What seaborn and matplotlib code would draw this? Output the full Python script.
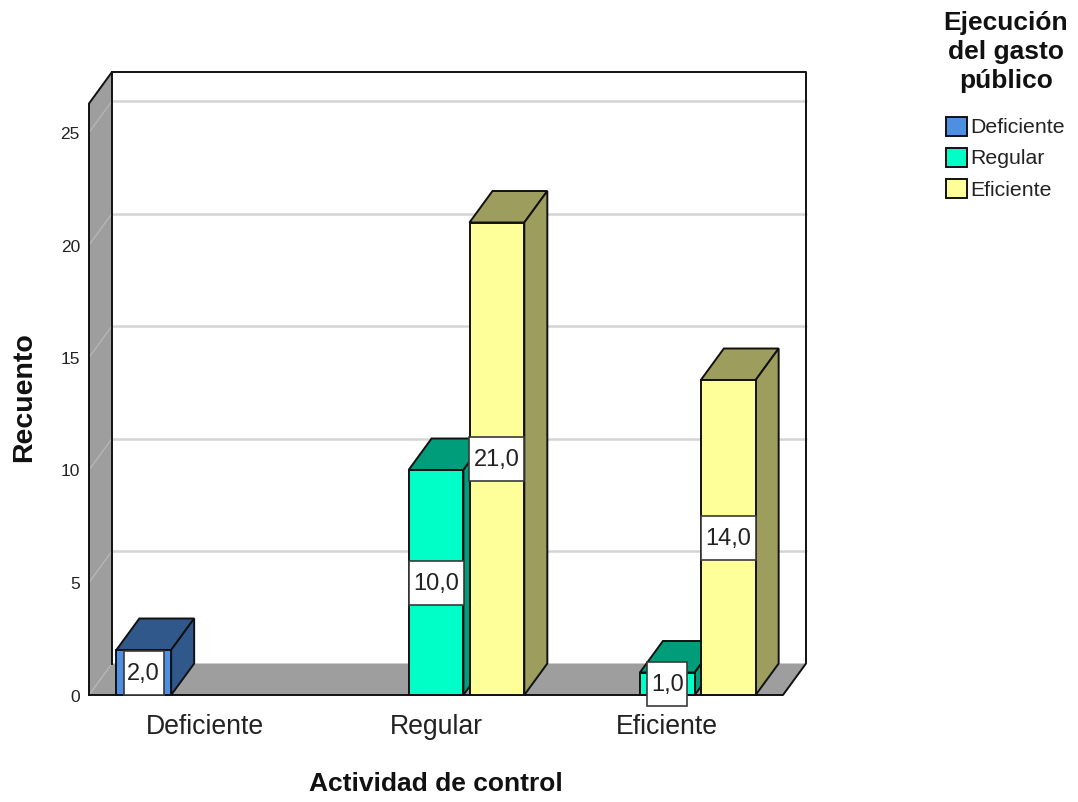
import matplotlib
matplotlib.use("Agg")
import matplotlib.pyplot as plt
import numpy as np
import pandas as pd
import seaborn as sns
from matplotlib.patches import Patch, Polygon, Rectangle
from matplotlib.transforms import ScaledTranslation

categories = ["Deficiente", "Regular", "Eficiente"]
levels = ["Deficiente", "Regular", "Eficiente"]
deficiente_counts = [2, np.nan, np.nan]
regular_counts = [np.nan, 10, 1]
eficiente_counts = [np.nan, 21, 14]
y_ticks = [0, 5, 10, 15, 20, 25]
colors = ["#4F8FE2", "#00FFC6", "#FFFF99"]

sns.set_style("white")
plt.rcParams["font.family"] = ["Liberation Sans", "DejaVu Sans"]

W, H = 1078, 802
PX_X = 694 / 3
PX_Y = 22.5
DEPTH_Y = 31.5
BOX_H = 623 - DEPTH_Y

fig = plt.figure(figsize=(W / 100, H / 100), dpi=100)
ax = fig.add_axes([89 / W, (H - 695) / H, 694 / W, BOX_H / H])

long_table = pd.DataFrame({
    "actividad": categories * 3,
    "ejecucion": np.repeat(levels, 3),
    "recuento": deficiente_counts + regular_counts + eficiente_counts,
})
sns.barplot(data=long_table, x="actividad", y="recuento", hue="ejecucion",
            order=categories, hue_order=levels, palette=colors, saturation=1,
            width=0.79, gap=0.1, legend=False, errorbar=None, ax=ax)

# Only the bars with a real count get a 3D body
bars = [b for b in ax.patches if np.isfinite(b.get_height()) and b.get_height() > 0]
bars.sort(key=lambda b: b.get_x())

ax.set_xlim(-0.5, 2.5)
ax.set_ylim(0, BOX_H / PX_Y)
DX = 23 / PX_X
DY = DEPTH_Y / PX_Y
x0, x1 = ax.get_xlim()
ytop = ax.get_ylim()[1]
EDGE = "#111111"
SHADE = 0.615
WALL = "#9E9E9E"
LW = 1.4

# Back wall, side wall and floor of the box
ax.add_patch(Polygon([(x0, 0), (x0 + DX, DY), (x1 + DX, DY), (x1, 0)], closed=True, fc=WALL,
                     ec="none", clip_on=False, zorder=1))
ax.add_patch(Polygon([(x0, 0), (x0, ytop), (x0 + DX, ytop + DY), (x0 + DX, DY)], closed=True,
                     fc=WALL, ec="none", clip_on=False, zorder=1))
for v in y_ticks[1:]:
    ax.plot([x0 + DX, x1 + DX], [v + DY, v + DY], color="#D4D4D4", lw=1.8, clip_on=False, zorder=1.2)
for v in y_ticks:
    ax.plot([x0, x0 + DX], [v, v + DY], color="#B8B8B8", lw=0.9, clip_on=False, zorder=1.2)
frame = dict(color=EDGE, lw=LW, clip_on=False, zorder=1.5, solid_capstyle="projecting")
ax.plot([x0, x0, x0 + DX, x1 + DX, x1 + DX, x1, x0], [0, ytop, ytop + DY, ytop + DY, DY, 0, 0], **frame)
ax.plot([x0 + DX, x0 + DX], [DY, ytop + DY], **frame)

# Extruded faces of every bar, painted left to right so nearer fronts overlap
for i, bar in enumerate(bars):
    xa, w, h = bar.get_x(), bar.get_width(), bar.get_height()
    base = 3 + i
    front = bar.get_facecolor()
    dark = tuple(c * SHADE for c in front[:3])
    bar.set(edgecolor=EDGE, linewidth=LW, zorder=base + 0.2, clip_on=False)
    top = [(xa, h), (xa + DX, h + DY), (xa + w + DX, h + DY), (xa + w, h)]
    side = [(xa + w, 0), (xa + w + DX, DY), (xa + w + DX, h + DY), (xa + w, h)]
    for pts in (top, side):
        ax.add_patch(Polygon(pts, closed=True, fc=dark, ec=EDGE, lw=LW, clip_on=False, zorder=base))

# Value boxes centred on each bar front
for bar in bars:
    h = bar.get_height()
    txt = f"{h:.1f}".replace(".", ",")
    cx = bar.get_x() + bar.get_width() / 2
    bw = (40 if len(txt) == 3 else 55) / PX_X
    bh = 44 / PX_Y
    ax.add_patch(Rectangle((cx - bw / 2, h / 2 - bh / 2), bw, bh, fc="white", ec="#3A3A3A",
                           lw=1.2, clip_on=False, zorder=30))
    ax.text(cx, h / 2 - 1.5 / PX_Y, txt, ha="center", va="center", fontsize=17, color="#222222", zorder=31)

sns.despine(ax=ax, left=True, bottom=True)
ax.patch.set_visible(False)
ax.set_xlabel("")
ax.set_ylabel("")
ax.set_yticks(y_ticks)
ax.tick_params(axis="both", length=0)
ax.tick_params(axis="x", labelsize=19.2, pad=14, labelcolor="#222222")
ax.tick_params(axis="y", labelsize=12.5, pad=6.5, labelcolor="#222222")
nudge = ScaledTranslation(0, -0.5 / 100, fig.dpi_scale_trans)
for lab in ax.get_yticklabels():
    lab.set_transform(lab.get_transform() + nudge)

fig.text(24 / W, 1 - 397 / H, "Recuento", rotation=90, ha="center", va="center",
         fontsize=20.5, fontweight="bold", color="#111111")
fig.text(436 / W, 1 - 784 / H, "Actividad de control", ha="center", va="center",
         fontsize=19, fontweight="bold", color="#111111")
fig.text(1006 / W, 1 - 52 / H, "Ejecución\ndel gasto\npúblico", ha="center", va="center",
         fontsize=19, fontweight="bold", color="#111111", linespacing=1.28)

handles = [Patch(facecolor=c, edgecolor=EDGE, linewidth=LW, label=l) for c, l in zip(colors, levels)]
fig.legend(handles=handles, loc="upper left", bbox_to_anchor=(937 / W, 1 - 108 / H), frameon=False,
           fontsize=15.3, handlelength=1.0, handleheight=1.0, handletextpad=0.16, labelspacing=0.49,
           borderpad=0.4, borderaxespad=0, labelcolor="#222222")

fig.savefig("out.png", dpi=100, facecolor="white")
